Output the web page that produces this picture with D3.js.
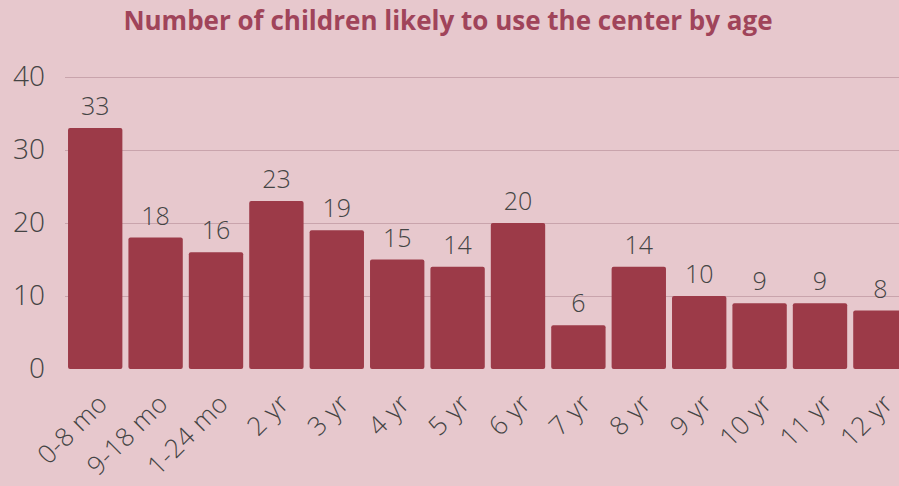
<!DOCTYPE html>
<html>
<head>
<meta charset="utf-8">
<script src="https://cdn.jsdelivr.net/npm/d3@7"></script>
<style>
  body { margin: 0; background: #e7c8cd; }
  svg { display: block; font-family: "Open Sans", sans-serif; }
</style>
</head>
<body>
<svg width="899" height="486"></svg>
<script>
const categories = ["0-8 mo", "9-18 mo", "1-24 mo", "2 yr", "3 yr", "4 yr", "5 yr", "6 yr", "7 yr", "8 yr", "9 yr", "10 yr", "11 yr", "12 yr"]
const values = [33, 18, 16, 23, 19, 15, 14, 20, 6, 14, 10, 9, 9, 8]
const yTicks = [0, 10, 20, 30, 40]

const svg = d3.select("svg")
const width = +svg.attr("width")

svg.append("rect")
  .attr("width", width)
  .attr("height", 486)
  .attr("fill", "#e7c8cd")

const x = d3.scaleBand()
  .domain(categories)
  .range([65, 65 + 14 * 60.4])
  .paddingInner(0.1)
  .paddingOuter(0.05)

const y = d3.scaleLinear()
  .domain([0, 40])
  .range([369, 77])

svg.append("text")
  .attr("x", 448)
  .attr("y", 30)
  .attr("text-anchor", "middle")
  .attr("font-size", 26)
  .attr("font-weight", "bold")
  .attr("fill", "#a0445a")
  .text("Number of children likely to use the center by age")

// grid
svg.append("g")
  .selectAll("line")
  .data(yTicks.filter(d => d > 0))
  .enter()
  .append("line")
  .attr("x1", 65)
  .attr("x2", width)
  .attr("y1", d => y(d) + 0.5)
  .attr("y2", d => y(d) + 0.5)
  .attr("stroke", "#c9a4ac")
  .attr("stroke-width", 1)

// y axis
const yAxis = svg.append("g")
  .attr("transform", "translate(45, 0)")
  .call(d3.axisLeft(y).tickValues(yTicks).tickSize(0).tickPadding(0))
yAxis.select(".domain").remove()
yAxis.selectAll("text")
  .attr("font-size", 28)
  .attr("font-weight", 300)
  .attr("fill", "#444")
  .attr("font-family", "Open Sans, sans-serif")

// bars
svg.append("g")
  .selectAll("rect")
  .data(values)
  .enter()
  .append("rect")
  .attr("x", (d, i) => x(categories[i]))
  .attr("y", d => y(d))
  .attr("width", x.bandwidth())
  .attr("height", d => y(0) - y(d))
  .attr("rx", 2)
  .attr("fill", "#9c3a48")

// value labels
svg.append("g")
  .selectAll("text")
  .data(values)
  .enter()
  .append("text")
  .attr("x", (d, i) => x(categories[i]) + x.bandwidth() / 2)
  .attr("y", d => y(d) - 13)
  .attr("text-anchor", "middle")
  .attr("font-size", 25)
  .attr("font-weight", 300)
  .attr("fill", "#444")
  .text(d => d)

// x axis labels
const xAxis = svg.append("g")
  .attr("transform", `translate(0, ${y(0)})`)
  .call(d3.axisBottom(x).tickSize(0).tickPadding(0))
xAxis.select(".domain").remove()
xAxis.selectAll("text")
  .attr("font-size", 26)
  .attr("font-weight", 300)
  .attr("fill", "#444")
  .attr("font-family", "Open Sans, sans-serif")
  .attr("letter-spacing", 0.5)
  .attr("text-anchor", "end")
  .attr("dy", 0)
  .attr("transform", "translate(14, 36) rotate(-45)")
</script>
</body>
</html>
